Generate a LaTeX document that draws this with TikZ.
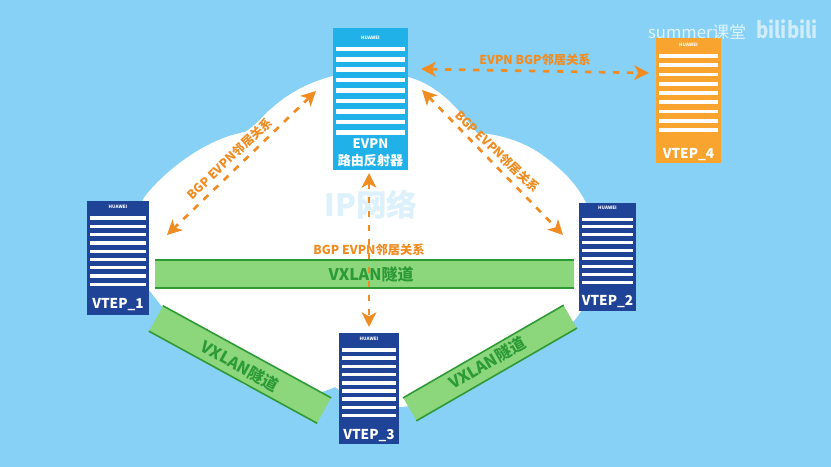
\documentclass[tikz,border=0pt]{standalone}
\usepackage{fontspec}
\setmainfont{Noto Sans CJK SC}
\usetikzlibrary{arrows.meta}
\definecolor{sky}{HTML}{87D1F6}
\definecolor{netblue}{HTML}{1F4397}
\definecolor{rrblue}{HTML}{20B1E9}
\definecolor{vtepfour}{HTML}{F9A42E}
\definecolor{peer}{HTML}{F08C22}
\definecolor{tunfill}{HTML}{8CD67C}
\definecolor{tunline}{HTML}{2F9A35}
\definecolor{tuntext}{HTML}{2C9A36}
\definecolor{ipblue}{HTML}{DCF1FC}
\tikzset{
  rack/.style={rectangle,inner sep=0pt},
  bar/.style={fill=white,rectangle,inner sep=0pt},
  ranklabel/.style={text=white,font=\bfseries\fontsize{10.2}{12}\selectfont,align=center},
  logo/.style={text=white,font=\bfseries\fontsize{3.4}{4}\selectfont},
  tunnel/.style={fill=tunfill,rectangle,inner sep=0pt},
  tunlabel/.style={text=tuntext,font=\bfseries\fontsize{12}{14}\selectfont},
  peering/.style={draw=peer,line width=2pt,dash pattern=on 5pt off 5.5pt,{Stealth[length=11pt,width=11pt,inset=3pt]}-{Stealth[length=11pt,width=11pt,inset=3pt]}},
  peerlabel/.style={text=peer,font=\bfseries\fontsize{9.2}{11}\selectfont}
}
\begin{document}
\begin{tikzpicture}[x=0.75pt,y=-0.75pt]
  \fill[sky] (0,0) rectangle (831,467);
  % the IP network cloud
  \fill[white] (143,199) .. controls (158,178) and (200,140) .. (245,132)
    .. controls (258,124) and (262,116) .. (272,108)
    .. controls (290,92) and (310,82) .. (333,76)
    .. controls (358,70) and (385,72) .. (408,77)
    .. controls (430,83) and (450,97) .. (477,133)
    .. controls (500,134) and (525,142) .. (545,157)
    .. controls (565,172) and (578,186) .. (587,205)
    .. controls (610,240) and (600,290) .. (573,322)
    .. controls (530,355) and (470,392) .. (410,406)
    .. controls (385,410) and (355,402) .. (335,387)
    .. controls (328,390) and (322,392) .. (318,393)
    .. controls (290,396) and (260,392) .. (245,385)
    .. controls (205,360) and (180,330) .. (149,290)
    -- (130,250) -- cycle;
  \node[text=ipblue,font=\bfseries\fontsize{23}{25}\selectfont] (ipnet) at (371,205) {IP网络};
  % tunnels
  \foreach \n/\cx/\cy/\w/\h/\r in {tun12/364.5/274/419/28/0,tun13/240/364.5/191.5/28.5/-28.7,tun23/490/363/185/26/30} {
    \node[tunnel,minimum width=\w*0.75pt,minimum height=\h*0.75pt,rotate=\r] (\n) at (\cx,\cy) {};
    \draw[tunline,line width=1.2pt] (\n.north west) -- (\n.north east) (\n.south west) -- (\n.south east);
  }
  \node[tunlabel] (lab12) at (371,274) {VXLAN隧道};
  \node[tunlabel,rotate=-29] (lab13) at (240,366) {VXLAN隧道};
  \node[tunlabel,rotate=30] (lab23) at (487,363) {VXLAN隧道};
  % devices
  \foreach \n/\cx/\cy/\w/\h/\c/\first/\gap/\t in {
    v1/118/258/62/114/netblue/218/8.3/3.3,
    v2/607.5/257/57/108/netblue/219/7.9/3,
    v3/369/388.5/60/111/netblue/350/8.2/3.6,
    v4/688.5/100.5/65/125/vtepfour/56/9.25/3.8,
    rr/370.5/99/75/142/rrblue/49/10.4/4.6} {
    \node[rack,fill=\c,minimum width=\w*0.75pt,minimum height=\h*0.75pt] (\n) at (\cx,\cy) {};
    \node[logo] (\n logo) at (\cx,\first-11) {HUAWEI};
    \foreach \i in {0,...,8} {
      \node[bar,minimum width=\w*0.75pt-5pt,minimum height=\t*0.75pt] (\n bar\i) at (\cx,\first+\i*\gap) {};
    }
  }
  \node[ranklabel] (v1name) at (118,305) {VTEP\_1};
  \node[ranklabel] (v2name) at (607.5,302) {VTEP\_2};
  \node[ranklabel] (v3name) at (369,436) {VTEP\_3};
  \node[ranklabel] (v4name) at (688.5,155) {VTEP\_4};
  \node[ranklabel,font=\bfseries\fontsize{9.8}{12.5}\selectfont] (rrname) at (370.5,152.5) {EVPN\\路由反射器};
  % peering arrows
  \coordinate (rrleft) at (316,91);
  \coordinate (v1top) at (167,235);
  \coordinate (rrright) at (422,90);
  \coordinate (v2top) at (563,235);
  \coordinate (rrtop) at (421,69);
  \coordinate (v4left) at (649,73);
  \coordinate (rrbottom) at (369,173);
  \coordinate (v3top) at (369,327);
  \draw[peering] (rrleft) -- (v1top);
  \draw[peering] (rrright) -- (v2top);
  \draw[peering] (rrtop) -- (v4left);
  \draw[peering] (rrbottom) -- (v3top);
  \node[peerlabel,rotate=43.5] (peer1) at (229.5,158.5) {BGP EVPN邻居关系};
  \node[peerlabel,rotate=-44] (peer2) at (497.5,151.5) {BGP EVPN邻居关系};
  \node[peerlabel] (peer3) at (535,60) {EVPN BGP邻居关系};
  \node[peerlabel] (peer4) at (369,250) {BGP EVPN邻居关系};
  % watermark
  \node[text=white,opacity=0.75,font=\fontsize{12.5}{14}\selectfont] (mark) at (697,32) {summer课堂};
  \node[text=white,opacity=0.6,xscale=0.83,font=\bfseries\fontsize{17}{18}\selectfont] (site) at (787,29) {bilibili};
\end{tikzpicture}
\end{document}
